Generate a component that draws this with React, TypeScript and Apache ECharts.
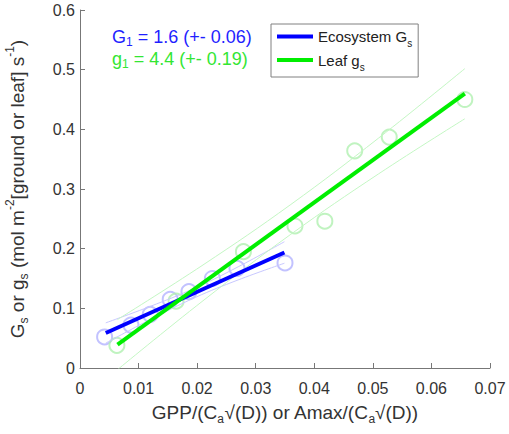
import React, { useEffect, useRef } from "react";
import * as echarts from "echarts";

// Ecosystem (blue) points
const ecoX = [0.0042, 0.0087, 0.012, 0.0154, 0.0186, 0.0226, 0.0268, 0.035];
const ecoY = [0.052, 0.072, 0.09, 0.115, 0.128, 0.15, 0.167, 0.176];
// Leaf (green) points
const leafX = [0.0063, 0.0164, 0.0279, 0.0367, 0.0418, 0.0469, 0.0528, 0.0657];
const leafY = [0.038, 0.112, 0.195, 0.238, 0.246, 0.364, 0.387, 0.45];
// Fitted lines
const ecoFitX = [0.0044, 0.0349];
const ecoFitY = [0.0587, 0.1936];
const leafFitX = [0.0064, 0.0657];
const leafFitY = [0.0392, 0.4597];
// Confidence bands
const ecoBandX = [0.0044, 0.012, 0.0197, 0.027, 0.0349];
const ecoBandUpper = [0.0757, 0.1033, 0.1343, 0.1696, 0.2116];
const ecoBandLower = [0.0417, 0.0813, 0.1183, 0.1476, 0.1756];
const leafBandX = [0.0064, 0.021, 0.036, 0.051, 0.0657];
const leafBandUpper = [0.0812, 0.1727, 0.2741, 0.3855, 0.5017];
const leafBandLower = [-0.0028, 0.1127, 0.2241, 0.3255, 0.4177];

const FONT = "'Liberation Sans', Arial, sans-serif";
const zip = (xs: number[], ys: number[]) => xs.map((x, i) => [x, ys[i]]);

export default function App() {
  const ref = useRef<HTMLDivElement>(null);
  useEffect(() => {
    if (!ref.current) return;
    const chart = echarts.init(ref.current, undefined, { renderer: "svg" });
    const textBase = { fontFamily: FONT, color: "#333" };
    const band = (name: string, xs: number[], ys: number[], color: string) => ({
      name,
      type: "line",
      data: zip(xs, ys),
      smooth: 0.4,
      symbol: "none",
      lineStyle: { color, width: 1 },
      silent: true,
      z: 3,
    });
    chart.setOption({
      animation: false,
      textStyle: { fontFamily: FONT },
      grid: { left: 80, right: 19, top: 10, bottom: 66, outerBoundsMode: "none", containLabel: false },
      xAxis: {
        type: "value",
        min: 0,
        max: 0.07,
        interval: 0.01,
        name: "{n|GPP/(C}{sub|a}{n|√(D)) or Amax/(C}{sub|a}{n|√(D))}",
        nameLocation: "middle",
        nameGap: 31,
        nameTextStyle: {
          rich: {
            n: { fontSize: 19, lineHeight: 26, color: "#333", fontFamily: FONT },
            sub: { fontSize: 12, lineHeight: 12, verticalAlign: "bottom", color: "#333", fontFamily: FONT },
          },
        },
        axisLine: { lineStyle: { color: "#777", width: 1 } },
        axisTick: { inside: true, length: 5, lineStyle: { color: "#777" } },
        axisLabel: { ...textBase, fontSize: 16, margin: 12 },
        splitLine: { show: false },
      },
      yAxis: {
        type: "value",
        min: 0,
        max: 0.6,
        interval: 0.1,
        name: "{n|G}{sub|s}{n| or g}{sub|s}{n| (mol m}{sup|-2}{n|[ground or leaf] s}{sup|-1}{n|)}",
        nameLocation: "middle",
        nameGap: 50,
        nameRotate: 90,
        nameTextStyle: {
          rich: {
            n: { fontSize: 19, lineHeight: 26, color: "#333", fontFamily: FONT },
            sub: { fontSize: 12, lineHeight: 12, verticalAlign: "bottom", color: "#333", fontFamily: FONT },
            sup: { fontSize: 12, lineHeight: 12, verticalAlign: "top", color: "#333", fontFamily: FONT },
          },
        },
        axisLine: { show: true, lineStyle: { color: "#777", width: 1 } },
        axisTick: { show: true, inside: true, length: 5, lineStyle: { color: "#777" } },
        axisLabel: { ...textBase, fontSize: 16, margin: 5 },
        splitLine: { show: false },
      },
      legend: {
        data: [
          { name: "Ecosystem Gs", icon: "rect" },
          { name: "Leaf gs", icon: "rect" },
        ],
        orient: "vertical",
        left: 271,
        top: 24,
        padding: [5, 6, 5, 6],
        itemGap: 4,
        itemWidth: 36,
        itemHeight: 4,
        borderColor: "#808080",
        borderWidth: 1,
        borderRadius: 0,
        backgroundColor: "#fff",
        formatter: (name: string) =>
          name === "Ecosystem Gs" ? "{n|Ecosystem G}{sub|s}" : "{n|Leaf g}{sub|s}",
        textStyle: {
          padding: [0, 0, 0, 0],
          rich: {
            n: { fontSize: 15, lineHeight: 24, color: "#222", fontFamily: FONT },
            sub: { fontSize: 10, lineHeight: 10, verticalAlign: "bottom", color: "#222", fontFamily: FONT },
          },
        },
      },
      graphic: [
        {
          type: "text",
          left: 112,
          top: 28,
          style: {
            text: "{n|G}{sub|1}{n| = 1.6 (+- 0.06)}",
            rich: {
              n: { fontSize: 18, lineHeight: 22, fill: "#1f1fff", fontFamily: FONT },
              sub: { fontSize: 12, lineHeight: 12, verticalAlign: "bottom", fill: "#1f1fff", fontFamily: FONT },
            },
          },
          z: 10,
        },
        {
          type: "text",
          left: 112,
          top: 50,
          style: {
            text: "{n|g}{sub|1}{n| = 4.4 (+- 0.19)}",
            rich: {
              n: { fontSize: 18, lineHeight: 22, fill: "#33e633", fontFamily: FONT },
              sub: { fontSize: 12, lineHeight: 12, verticalAlign: "bottom", fill: "#33e633", fontFamily: FONT },
            },
          },
          z: 10,
        },
      ],
      series: [
        {
          name: "Ecosystem points",
          type: "scatter",
          data: zip(ecoX, ecoY),
          symbol: "circle",
          symbolSize: 15,
          itemStyle: { color: "rgba(0,0,0,0)", borderColor: "#b3b3ff", borderWidth: 2 },
          z: 2,
        },
        {
          name: "Leaf points",
          type: "scatter",
          data: zip(leafX, leafY),
          symbol: "circle",
          symbolSize: 15,
          itemStyle: { color: "rgba(0,0,0,0)", borderColor: "#b0f0b0", borderWidth: 2 },
          z: 2,
        },
        band("eco upper", ecoBandX, ecoBandUpper, "#c8c8ff"),
        band("eco lower", ecoBandX, ecoBandLower, "#c8c8ff"),
        band("leaf upper", leafBandX, leafBandUpper, "#c4f7c4"),
        band("leaf lower", leafBandX, leafBandLower, "#c4f7c4"),
        {
          name: "Ecosystem Gs",
          type: "line",
          data: zip(ecoFitX, ecoFitY),
          symbol: "none",
          lineStyle: { color: "#0000ff", width: 4 },
          itemStyle: { color: "#0000ff" },
          z: 5,
        },
        {
          name: "Leaf gs",
          type: "line",
          data: zip(leafFitX, leafFitY),
          symbol: "none",
          lineStyle: { color: "#00ee00", width: 4 },
          itemStyle: { color: "#00ee00" },
          z: 6,
        },
      ],
    });
    return () => chart.dispose();
  }, []);
  return (
    <div
      ref={ref}
      style={{ position: "absolute", left: 0, top: 0, width: 509, height: 434 }}
    />
  );
}
